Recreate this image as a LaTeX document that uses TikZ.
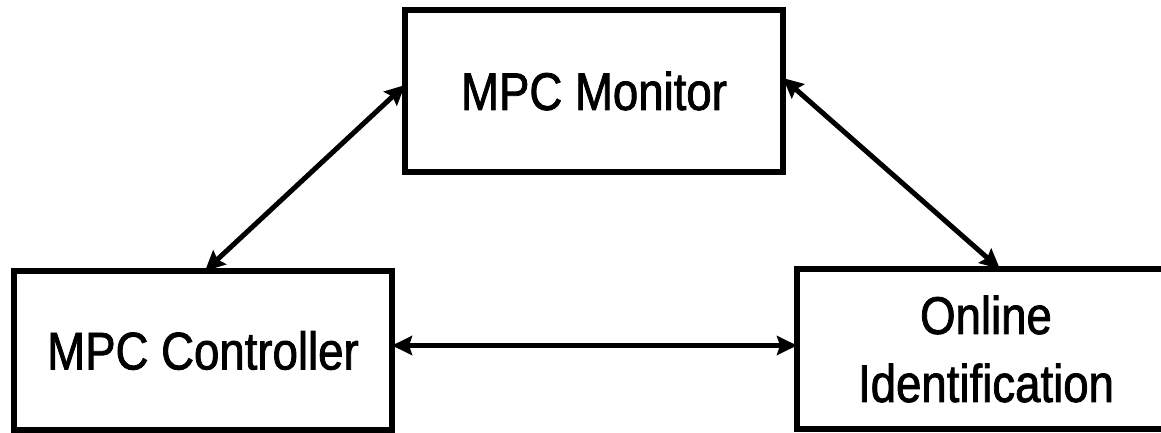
\documentclass[tikz,border=0pt]{standalone}
\usepackage{fontspec}
\setmainfont{Liberation Sans}[FakeStretch=0.86,FakeBold=1.5]
\usetikzlibrary{arrows.meta,calc}
\begin{document}
\begin{tikzpicture}[x=1pt,y=-1pt,
  box/.style={draw, line width=6pt, rectangle, outer sep=0pt, inner sep=0pt,
    font=\fontsize{53}{68}\selectfont, align=center},
  tip/.style={Stealth[length=20pt,width=19pt,inset=3pt]},
  arr/.style={line width=5pt, {Stealth[length=20pt,width=19pt,inset=3pt]}-{Stealth[length=20pt,width=19pt,inset=3pt]}}]
\clip (0,0) rectangle (1161,433);
\fill[white] (0,0) rectangle (1161,433);
\node[box, minimum width=378pt, minimum height=162pt] (mon) at (594,91) {MPC Monitor};
\node[box, minimum width=378pt, minimum height=159pt] (ctrl) at (203,350.5) {MPC Controller};
\node[box, minimum width=378pt, minimum height=160pt] (onl) at (986,349) {Online\\Identification};
\draw[arr] ($(mon.north west)!0.463!(mon.south west)$) -- ([xshift=2pt]ctrl.north);
\draw[arr] ($(mon.north east)!0.42!(mon.south east)$) -- ($(onl.north west)!0.537!(onl.north east)$);
\draw[arr] ([yshift=5pt]ctrl.east) -- ([yshift=5pt]ctrl.east -| onl.west);
\end{tikzpicture}
\end{document}
